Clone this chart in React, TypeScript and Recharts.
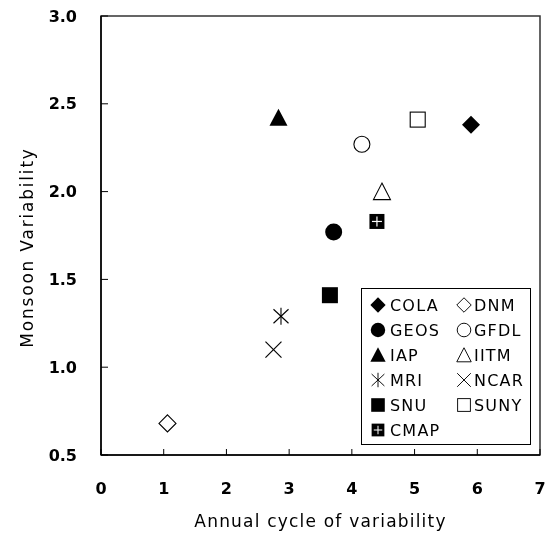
import React from 'react';
import { ScatterChart, Scatter, XAxis, YAxis, Legend, ReferenceArea } from 'recharts';

const models = ['COLA', 'DNM', 'GEOS', 'GFDL', 'IAP', 'IITM', 'MRI', 'NCAR', 'SNU', 'SUNY', 'CMAP'];
const annualCycle = [5.9, 1.06, 3.71, 4.16, 2.83, 4.48, 2.87, 2.75, 3.65, 5.05, 4.4];
const monsoonVariability = [2.38, 0.68, 1.77, 2.27, 2.42, 2.0, 1.29, 1.1, 1.41, 2.41, 1.83];
const markerKinds = ['diamondFilled', 'diamondOpen', 'circleFilled', 'circleOpen', 'triangleFilled', 'triangleOpen', 'asterisk', 'cross', 'squareFilled', 'squareOpen', 'squarePlus'];
const xTicks = [0, 1, 2, 3, 4, 5, 6, 7];
const yTicks = [0.5, 1.0, 1.5, 2.0, 2.5, 3.0];

const FONT = '"DejaVu Sans", sans-serif';

function Marker({ kind, cx, cy }: { kind: string; cx: number; cy: number }) {
  const s = 8.5;
  switch (kind) {
    case 'diamondFilled':
      return <polygon points={`${cx},${cy - 9} ${cx + 9},${cy} ${cx},${cy + 9} ${cx - 9},${cy}`} fill="#000" />;
    case 'diamondOpen':
      return <polygon points={`${cx},${cy - 8.5} ${cx + 8.5},${cy} ${cx},${cy + 8.5} ${cx - 8.5},${cy}`} fill="#fff" stroke="#000" strokeWidth={1.1} />;
    case 'circleFilled':
      return <circle cx={cx} cy={cy} r={8.5} fill="#000" />;
    case 'circleOpen':
      return <circle cx={cx} cy={cy} r={8} fill="#fff" stroke="#000" strokeWidth={1.1} />;
    case 'triangleFilled':
      return <polygon points={`${cx},${cy - 9} ${cx + 9},${cy + 8} ${cx - 9},${cy + 8}`} fill="#000" />;
    case 'triangleOpen':
      return <polygon points={`${cx},${cy - 8.5} ${cx + 8.5},${cy + 8} ${cx - 8.5},${cy + 8}`} fill="#fff" stroke="#000" strokeWidth={1.1} />;
    case 'asterisk':
      return (
        <g stroke="#000" strokeWidth={1.1}>
          <line x1={cx} y1={cy - s} x2={cx} y2={cy + s} />
          <line x1={cx - 7.5} y1={cy - 7} x2={cx + 7.5} y2={cy + 7} />
          <line x1={cx - 7.5} y1={cy + 7} x2={cx + 7.5} y2={cy - 7} />
        </g>
      );
    case 'cross':
      return (
        <g stroke="#000" strokeWidth={1.1}>
          <line x1={cx - 8} y1={cy - 8} x2={cx + 8} y2={cy + 8} />
          <line x1={cx - 8} y1={cy + 8} x2={cx + 8} y2={cy - 8} />
        </g>
      );
    case 'squareFilled':
      return <rect x={cx - 8} y={cy - 8} width={16} height={16} fill="#000" />;
    case 'squareOpen':
      return <rect x={cx - 7.5} y={cy - 7.5} width={15} height={15} fill="#fff" stroke="#000" strokeWidth={1.1} />;
    case 'squarePlus':
      return (
        <g>
          <rect x={cx - 7.5} y={cy - 7.5} width={15} height={15} fill="#000" />
          <line x1={cx - 5} y1={cy} x2={cx + 5} y2={cy} stroke="#fff" strokeWidth={1.2} />
          <line x1={cx} y1={cy - 5} x2={cx} y2={cy + 5} stroke="#fff" strokeWidth={1.2} />
        </g>
      );
    default:
      return null;
  }
}

const XTick = (props: any) => {
  const { x, y, payload } = props;
  const axisY = y - 28;
  return (
    <g>
      <line x1={x} y1={axisY} x2={x} y2={axisY - 6} stroke="#000" strokeWidth={1} />
      <text x={x} y={y} dy="0.71em" textAnchor="middle" fontFamily={FONT} fontWeight="bold" fontSize={16} fill="#000">
        {payload.value}
      </text>
    </g>
  );
};

const YTick = (props: any) => {
  const { x, y, payload } = props;
  const axisX = x + 24;
  return (
    <g>
      <line x1={axisX} y1={y} x2={axisX + 7} y2={y} stroke="#000" strokeWidth={1} />
      <text x={x} y={y} dy="0.355em" textAnchor="end" fontFamily={FONT} fontWeight="bold" fontSize={16} fill="#000">
        {Number(payload.value).toFixed(1)}
      </text>
    </g>
  );
};

const LegendBox = () => (
  <div style={{ width: 170, height: 157, border: '1px solid #000', boxSizing: 'border-box', background: '#fff' }}>
    <svg width={168} height={155}>
      {models.map((m, i) => {
        const col = i % 2;
        const row = Math.floor(i / 2);
        const mx = col === 0 ? 16 : 102;
        const tx = col === 0 ? 28 : 112;
        const cy = 16 + row * 25;
        return (
          <g key={m}>
            <g transform={`translate(${mx},${cy}) scale(0.85)`}>
              <Marker kind={markerKinds[i]} cx={0} cy={0} />
            </g>
            <text x={tx} y={cy} dy="0.36em" fontFamily={FONT} fontSize={16} letterSpacing={1.2} fill="#000">
              {m}
            </text>
          </g>
        );
      })}
    </svg>
  </div>
);

export default function App() {
  return (
    <div style={{ position: 'fixed', left: 8, top: 8 }}>
      <ScatterChart width={541} height={526} margin={{ top: 8, right: 9, bottom: 0, left: 0 }}>
        <XAxis
          type="number"
          dataKey="x"
          domain={[0, 7]}
          ticks={xTicks}
          interval={0}
          height={79}
          tickSize={0}
          tickMargin={28}
          tick={<XTick />}
          axisLine={{ stroke: '#000', strokeWidth: 1.5 }}
          tickLine={false}
          label={{ value: 'Annual cycle of variability', position: 'insideBottom', offset: 7, fontFamily: FONT, fontSize: 17, letterSpacing: 1.2, fill: '#000' }}
        />
        <YAxis
          type="number"
          dataKey="y"
          domain={[0.5, 3.0]}
          ticks={yTicks}
          interval={0}
          width={93}
          tickSize={0}
          tickMargin={24}
          tick={<YTick />}
          axisLine={{ stroke: '#000', strokeWidth: 1.5 }}
          tickLine={false}
          label={{
            content: (p: any) => {
              const vb = p.viewBox;
              const cx = 19;
              const cy = vb.y + vb.height / 2 + 12;
              return (
                <text x={cx} y={cy} transform={`rotate(-90, ${cx}, ${cy})`} textAnchor="middle" dominantBaseline="central" fontFamily={FONT} fontSize={17} letterSpacing={1.8} fill="#000">
                  Monsoon Variability
                </text>
              );
            },
          }}
        />
        <ReferenceArea x1={0} x2={7} y1={0.5} y2={3.0} fill="none" stroke="#333" strokeWidth={1.5} fillOpacity={0} />
        {models.map((m, i) => (
          <Scatter
            key={m}
            name={m}
            data={[{ x: annualCycle[i], y: monsoonVariability[i] }]}
            isAnimationActive={false}
            shape={(p: any) => <Marker kind={markerKinds[i]} cx={p.cx} cy={p.cy} />}
          />
        ))}
        <Legend
          layout="vertical"
          align="center"
          verticalAlign="middle"
          content={<LegendBox />}
          wrapperStyle={{ position: 'absolute', left: 353, top: 280, width: 170, height: 157 }}
        />
      </ScatterChart>
    </div>
  );
}
